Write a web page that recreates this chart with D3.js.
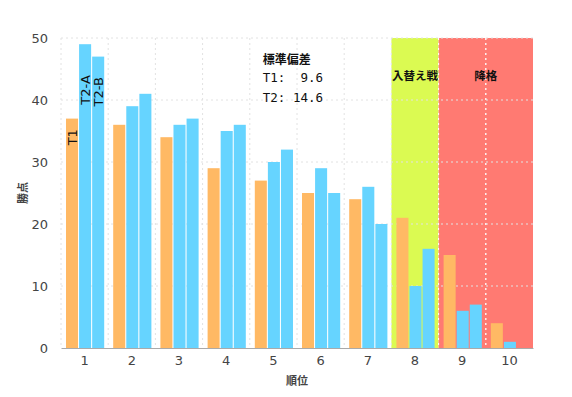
<!DOCTYPE html>
<html>
<head>
<meta charset="utf-8">
<script src="https://cdn.jsdelivr.net/npm/d3@7"></script>
<style>
  body { margin: 0; background: #fff; }
  .tick text { font-family: "DejaVu Sans", sans-serif; }
</style>
</head>
<body>
<div id="chart"></div>
<script>
// ranks and points
var ranks = ["1", "2", "3", "4", "5", "6", "7", "8", "9", "10"];
var seriesNames = ["T1", "T2-A", "T2-B"];
var t1 = [37, 36, 34, 29, 27, 25, 24, 21, 15, 4];
var t2a = [49, 39, 36, 35, 30, 29, 26, 10, 6, 1];
var t2b = [47, 41, 37, 36, 32, 25, 20, 16, 7, 0];
var yTicks = [0, 10, 20, 30, 40, 50];
// where the vertical series names sit (in points), first rank only
var nameEnds = [35.3, 44, 43.7];
var stdLines = ["T1:  9.6", "T2: 14.6"];
var zones = [
  { from: "8", to: "8", label: "入替え戦", color: "#dbfa52" },
  { from: "9", to: "10", label: "降格", color: "#ff7a72" }
];

var width = 572,
    height = 397;
var margin = { top: 38, right: 39, bottom: 49, left: 61 };
var w = width - margin.left - margin.right,
    h = height - margin.top - margin.bottom;

var colors = ["#ffb964", "#66d4ff", "#66d4ff"];

var svg = d3.select("#chart").append("svg")
    .attr("width", width)
    .attr("height", height);

var g = svg.append("g").attr("transform", "translate(" + margin.left + "," + margin.top + ")");

var x = d3.scaleBand().domain(ranks).range([0, w]);
var x1 = d3.scaleBand().domain(seriesNames).range([5, x.bandwidth() - 4]).paddingInner(0.08);
var y = d3.scaleLinear().domain([0, 50]).range([h, 0]);

// background zones
g.selectAll("rect.zone")
  .data(zones)
  .enter()
  .append("rect")
  .attr("class", "zone")
  .attr("x", function(d) { return x(d.from); })
  .attr("y", 0)
  .attr("width", function(d) { return x(d.to) + x.bandwidth() - x(d.from); })
  .attr("height", h)
  .attr("fill", function(d) { return d.color; });

// grid
g.selectAll("line.hgrid")
  .data(yTicks.slice(1))
  .enter()
  .append("line")
  .attr("x1", 0).attr("x2", w)
  .attr("y1", function(d) { return y(d); })
  .attr("y2", function(d) { return y(d); })
  .attr("stroke", "#e2e2e2")
  .attr("stroke-dasharray", "2,3");

g.selectAll("line.vgrid")
  .data(ranks)
  .enter()
  .append("line")
  .attr("x1", function(d) { return x(d); })
  .attr("x2", function(d) { return x(d); })
  .attr("y1", 0).attr("y2", h)
  .attr("stroke", function(d) { return +d >= 9 ? "#ffffff" : "#e2e2e2"; })
  .attr("stroke-width", function(d) { return d == "10" ? 1.3 : 1; })
  .attr("stroke-dasharray", "2,3");

// bars
var rows = ranks.map(function(r, i) {
  return { rank: r, vals: [t1[i], t2a[i], t2b[i]] };
});

var groups = g.selectAll("g.rank")
  .data(rows)
  .enter()
  .append("g")
  .attr("transform", function(d) { return "translate(" + x(d.rank) + ",0)"; });

groups.selectAll("rect")
  .data(function(d) { return d.vals.map(function(v, j) { return { name: seriesNames[j], value: v, j: j }; }); })
  .enter()
  .append("rect")
  .attr("x", function(d) { return x1(d.name); })
  .attr("y", function(d) { return y(d.value); })
  .attr("width", x1.bandwidth())
  .attr("height", function(d) { return h - y(d.value); })
  .attr("fill", function(d) { return colors[d.j]; });

// series names on first rank
g.selectAll("text.sname")
  .data(seriesNames)
  .enter()
  .append("text")
  .attr("transform", function(d, i) {
    return "translate(" + (x("1") + x1(d) + x1.bandwidth() / 2 + 5) + "," + y(nameEnds[i]) + ") rotate(-90)";
  })
  .attr("text-anchor", "end")
  .style("font-family", "DejaVu Sans, sans-serif")
  .style("font-size", "13px")
  .attr("fill", "#111")
  .text(function(d) { return d; });

// zone labels
g.selectAll("text.zone")
  .data(zones)
  .enter()
  .append("text")
  .attr("x", function(d) { return x(d.from) + (x(d.to) + x.bandwidth() - x(d.from)) / 2; })
  .attr("y", y(43.2))
  .attr("text-anchor", "middle")
  .style("font-family", "Noto Sans CJK JP, sans-serif")
  .style("font-size", "11.5px")
  .style("font-weight", "bold")
  .attr("fill", "#111")
  .text(function(d) { return d.label; });

// std deviation box
var sdX = x("5") + 13;
g.append("text")
  .attr("x", sdX)
  .attr("y", y(45.8))
  .style("font-family", "Noto Sans CJK JP, sans-serif")
  .style("font-weight", "bold")
  .style("font-size", "12px")
  .attr("fill", "#111")
  .text("標準偏差");
stdLines.forEach(function(s, i) {
  g.append("text")
    .attr("x", sdX)
    .attr("y", y(45.8) + 18 + i * 20)
    .attr("xml:space", "preserve")
    .style("font-family", "DejaVu Sans Mono, monospace")
    .style("font-size", "12.5px")
    .style("white-space", "pre")
    .attr("fill", "#111")
    .text(s);
});

// axes
var xAxis = g.append("g")
  .attr("transform", "translate(0," + h + ")")
  .call(d3.axisBottom(x).tickSize(0).tickPadding(8));
xAxis.select(".domain").attr("stroke", "#aaa");
xAxis.selectAll("text").style("font-size", "13px").attr("fill", "#444");

var yAxis = g.append("g")
  .call(d3.axisLeft(y).tickValues(yTicks).tickSize(0).tickPadding(13));
yAxis.select(".domain").remove();
yAxis.selectAll("text").style("font-size", "13px").attr("fill", "#444");

svg.append("text")
  .attr("transform", "translate(" + 27 + "," + (margin.top + h / 2) + ") rotate(-90)")
  .attr("text-anchor", "middle")
  .style("font-family", "Noto Sans CJK JP, sans-serif")
  .style("font-size", "11px")
  .style("font-weight", "bold")
  .attr("fill", "#444")
  .text("勝点");

svg.append("text")
  .attr("x", margin.left + w / 2)
  .attr("y", 385)
  .attr("text-anchor", "middle")
  .style("font-family", "Noto Sans CJK JP, sans-serif")
  .style("font-size", "11px")
  .style("font-weight", "bold")
  .attr("fill", "#444")
  .text("順位");
</script>
</body>
</html>
